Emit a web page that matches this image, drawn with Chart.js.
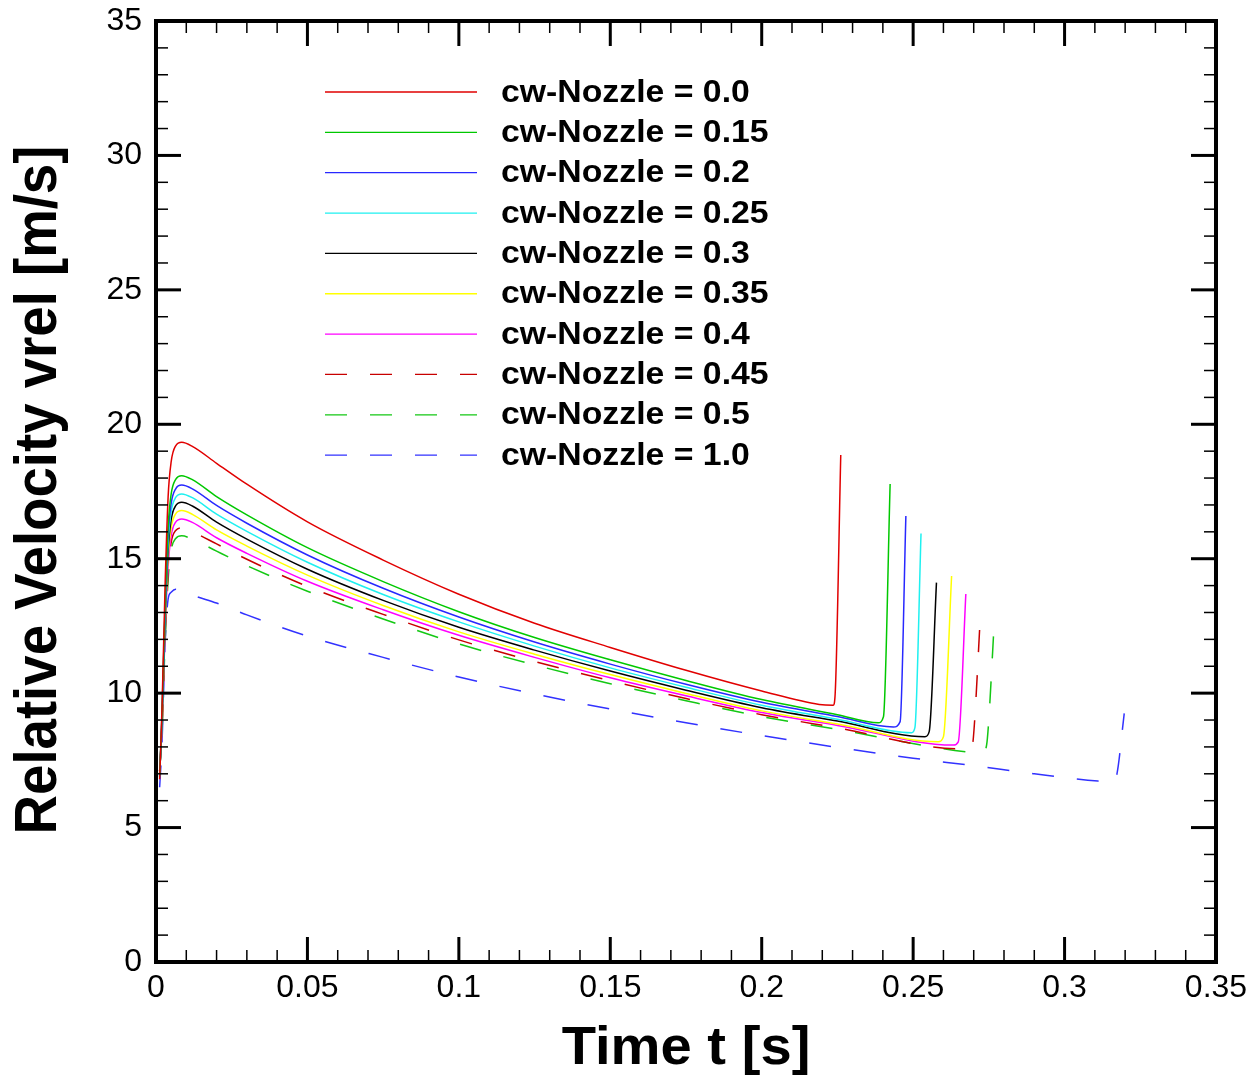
<!DOCTYPE html>
<html lang="en">
<head>
    <meta charset="UTF-8">
    <title>Relative Velocity</title>
    <script src="https://cdn.jsdelivr.net/npm/chart.js"></script>
    <style>
        body { margin: 0; background: #fff; }
        canvas { display: block; }
    </style>
</head>
<body>
    <canvas id="grafico" width="1260" height="1082" style="width:1260px;height:1082px"></canvas>

<script>
    // common time grid (s) for the start-up and decay part of every curve
    const tGrid = [0.0012, 0.002, 0.003, 0.004, 0.005, 0.0065, 0.0085, 0.012, 0.02, 0.03, 0.05, 0.075, 0.1, 0.125, 0.15, 0.175, 0.2];

    // vrel (m/s) on tGrid for each nozzle coefficient
    const v_00  = [6.8, 9.5, 14.0, 17.3, 18.6, 19.2, 19.33, 19.18, 18.55, 17.77, 16.37, 14.95, 13.68, 12.6, 11.7, 10.85, 10.08];
    const v_015 = [6.9, 9.3, 13.3, 16.2, 17.4, 17.95, 18.09, 17.94, 17.31, 16.63, 15.41, 14.15, 13.03, 12.07, 11.24, 10.47, 9.76];
    const v_02  = [6.9, 9.2, 13.1, 15.9, 17.05, 17.6, 17.74, 17.6, 16.98, 16.32, 15.14, 13.9, 12.83, 11.9, 11.08, 10.33, 9.66];
    const v_025 = [6.9, 9.1, 12.9, 15.6, 16.75, 17.28, 17.41, 17.27, 16.66, 16.02, 14.87, 13.67, 12.65, 11.75, 10.94, 10.22, 9.55];
    const v_03  = [7.0, 9.0, 12.7, 15.3, 16.45, 16.97, 17.1, 16.96, 16.36, 15.73, 14.61, 13.45, 12.45, 11.6, 10.82, 10.11, 9.46];
    const v_035 = [7.0, 8.9, 12.5, 15.0, 16.15, 16.67, 16.79, 16.65, 16.07, 15.47, 14.39, 13.26, 12.28, 11.45, 10.69, 9.99, 9.34];
    const v_04  = [7.1, 8.8, 12.3, 14.7, 15.85, 16.36, 16.48, 16.35, 15.78, 15.2, 14.16, 13.1, 12.15, 11.33, 10.57, 9.9, 9.28];
    const v_045 = [7.1, 8.7, 12.1, 14.5, 15.6, 16.05, 16.15, 16.0, 15.55, 14.98, 13.97, 12.93, 11.98, 11.18, 10.46, 9.8, 9.2];
    const v_05  = [7.1, 8.6, 11.9, 14.2, 15.3, 15.75, 15.85, 15.73, 15.28, 14.74, 13.79, 12.76, 11.83, 11.05, 10.35, 9.72, 9.13];
    const v_10  = [6.5, 8.2, 11.8, 13.5, 13.75, 13.86, 13.82, 13.65, 13.35, 12.91, 12.12, 11.33, 10.6, 9.97, 9.41, 8.9, 8.42];

    // end of each run: last decay, minimum and the final jump
    const tEnd_00  = [0.219, 0.2236, 0.2242, 0.2261];
    const vEnd_00  = [9.58, 9.55, 9.87, 18.86];
    const tEnd_015 = [0.225, 0.2385, 0.2402, 0.2424];
    const vEnd_015 = [9.2, 8.9, 9.12, 17.78];
    const tEnd_02  = [0.225, 0.2435, 0.2457, 0.2476];
    const vEnd_02  = [9.13, 8.74, 8.94, 16.59];
    const tEnd_025 = [0.225, 0.2495, 0.2506, 0.2526];
    const vEnd_025 = [9.03, 8.53, 8.73, 15.94];
    const tEnd_03  = [0.225, 0.2539, 0.2553, 0.2577];
    const vEnd_03  = [8.96, 8.38, 8.57, 14.11];
    const tEnd_035 = [0.225, 0.2583, 0.26, 0.2627];
    const vEnd_035 = [8.85, 8.19, 8.38, 14.36];
    const tEnd_04  = [0.225, 0.2633, 0.2649, 0.2674];
    const vEnd_04  = [8.8, 8.07, 8.19, 13.69];
    const tEnd_045 = [0.225, 0.2655, 0.2693, 0.2699, 0.2723];
    const vEnd_045 = [8.71, 7.93, 7.95, 8.36, 13.09];
    const tEnd_05  = [0.225, 0.2688, 0.272, 0.2737, 0.2745, 0.2768];
    const vEnd_05  = [8.65, 7.8, 7.78, 7.87, 8.3, 12.66];
    const tEnd_10  = [0.23, 0.25, 0.27, 0.29, 0.311, 0.316, 0.3173, 0.3197];
    const vEnd_10  = [7.9, 7.58, 7.3, 7.0, 6.73, 6.7, 7.0, 9.25];

    const legendas = ['cw-Nozzle = 0.0', 'cw-Nozzle = 0.15', 'cw-Nozzle = 0.2', 'cw-Nozzle = 0.25', 'cw-Nozzle = 0.3',
        'cw-Nozzle = 0.35', 'cw-Nozzle = 0.4', 'cw-Nozzle = 0.45', 'cw-Nozzle = 0.5', 'cw-Nozzle = 1.0'];
    const cores = ['rgb(225,0,0)', 'rgb(0,200,0)', 'rgb(40,40,255)', 'rgb(30,240,240)', 'rgb(0,0,0)',
        'rgb(255,255,0)', 'rgb(255,0,255)', 'rgb(200,0,0)', 'rgb(20,200,20)', 'rgb(50,50,255)'];
    const tracejado = [false, false, false, false, false, false, false, true, true, true];

    const xTicks = [0, 0.05, 0.1, 0.15, 0.2, 0.25, 0.3, 0.35];
    const yTicks = [0, 5, 10, 15, 20, 25, 30, 35];

    const fonte = '"Liberation Sans", Arial, sans-serif';

    function montarSerie(vGrid, tEnd, vEnd) {
        let pontos = [];
        for (let i = 0; i < tGrid.length; i++) {
            pontos.push({ x: tGrid[i], y: vGrid[i] });
        }
        for (let i = 0; i < tEnd.length; i++) {
            pontos.push({ x: tEnd[i], y: vEnd[i] });
        }
        return pontos;
    }

    const series = [
        montarSerie(v_00, tEnd_00, vEnd_00),
        montarSerie(v_015, tEnd_015, vEnd_015),
        montarSerie(v_02, tEnd_02, vEnd_02),
        montarSerie(v_025, tEnd_025, vEnd_025),
        montarSerie(v_03, tEnd_03, vEnd_03),
        montarSerie(v_035, tEnd_035, vEnd_035),
        montarSerie(v_04, tEnd_04, vEnd_04),
        montarSerie(v_045, tEnd_045, vEnd_045),
        montarSerie(v_05, tEnd_05, vEnd_05),
        montarSerie(v_10, tEnd_10, vEnd_10)
    ];

    let datasets = [];
    for (let i = 0; i < series.length; i++) {
        datasets.push({
            label: legendas[i],
            data: series[i],
            borderColor: cores[i],
            borderWidth: 1.5,
            borderDash: tracejado[i] ? [22, 23] : [],
            pointRadius: 0,
            showLine: true,
            fill: false,
            cubicInterpolationMode: 'monotone'
        });
    }

    // frame, inward ticks, legend and axis titles
    const molduraPlugin = {
        id: 'moldura',
        afterDatasetsDraw(chart) {
            const ctx = chart.ctx;
            const a = chart.chartArea;
            const sx = chart.scales.x;
            const sy = chart.scales.y;
            ctx.save();
            ctx.strokeStyle = '#000';
            ctx.lineCap = 'butt';

            function tick(x1, y1, x2, y2, w) {
                ctx.lineWidth = w;
                ctx.beginPath();
                ctx.moveTo(x1, y1);
                ctx.lineTo(x2, y2);
                ctx.stroke();
            }

            for (let i = 0; i <= 35; i++) {
                const px = sx.getPixelForValue(i * 0.01);
                const maior = i % 5 === 0;
                const len = maior ? 25 : 12;
                const w = maior ? 3 : 1.5;
                tick(px, a.bottom, px, a.bottom - len, w);
                tick(px, a.top, px, a.top + len, w);
            }
            for (let i = 0; i <= 35; i++) {
                const py = sy.getPixelForValue(i);
                const maior = i % 5 === 0;
                const len = maior ? 25 : 12;
                const w = maior ? 3 : 1.5;
                tick(a.left, py, a.left + len, py, w);
                tick(a.right, py, a.right - len, py, w);
            }

            ctx.lineWidth = 4;
            ctx.strokeRect(a.left, a.top, a.right - a.left, a.bottom - a.top);

            // legend
            ctx.font = 'bold 31px ' + fonte;
            ctx.textBaseline = 'middle';
            ctx.fillStyle = '#000';
            for (let i = 0; i < legendas.length; i++) {
                const y = 92 + i * 40.35;
                ctx.strokeStyle = cores[i];
                ctx.lineWidth = 1.3;
                ctx.setLineDash(tracejado[i] ? [22, 23] : []);
                ctx.beginPath();
                ctx.moveTo(325, y);
                ctx.lineTo(477, y);
                ctx.stroke();
                ctx.setLineDash([]);
                ctx.save();
                ctx.translate(501, y + 1);
                ctx.scale(1.09, 1);
                ctx.fillText(legendas[i], 0, 0);
                ctx.restore();
            }

            // axis titles
            ctx.font = 'bold 53px ' + fonte;
            ctx.textAlign = 'center';
            ctx.textBaseline = 'middle';
            ctx.save();
            ctx.translate(686, 1049);
            ctx.scale(1.06, 1);
            ctx.fillText('Time t [s]', 0, 0);
            ctx.restore();

            ctx.save();
            ctx.translate(40, 490);
            ctx.rotate(-Math.PI / 2);
            ctx.scale(1.03, 1.12);
            ctx.fillText('Relative Velocity vrel [m/s]', 0, 0);
            ctx.restore();

            ctx.restore();
        }
    };

    const config = {
        type: 'scatter',
        data: { datasets: datasets },
        options: {
            responsive: false,
            animation: false,
            layout: { padding: { top: 21, right: 44, left: 0, bottom: 0 } },
            plugins: {
                legend: { display: false },
                tooltip: { enabled: false }
            },
            scales: {
                x: {
                    type: 'linear',
                    min: 0,
                    max: 0.35,
                    afterFit: function (s) { s.height = 120; s.paddingLeft = 0; s.paddingRight = 0; },
                    afterBuildTicks: function (s) { s.ticks = xTicks.map(v => ({ value: v })); },
                    grid: { display: false, drawTicks: false },
                    border: { display: false },
                    ticks: {
                        padding: 7,
                        maxRotation: 0,
                        autoSkip: false,
                        color: '#000',
                        font: { size: 32, family: fonte },
                        callback: v => String(+v.toFixed(2))
                    }
                },
                y: {
                    type: 'linear',
                    min: 0,
                    max: 35,
                    afterFit: function (s) { s.width = 156; s.paddingTop = 0; s.paddingBottom = 0; },
                    afterBuildTicks: function (s) { s.ticks = yTicks.map(v => ({ value: v })); },
                    grid: { display: false, drawTicks: false },
                    border: { display: false },
                    ticks: {
                        padding: 14,
                        autoSkip: false,
                        color: '#000',
                        font: { size: 32, family: fonte },
                        callback: v => String(v)
                    }
                }
            }
        },
        plugins: [molduraPlugin]
    };

    let meuGrafico = new Chart(document.getElementById('grafico'), config);
</script>
</body>
</html>
